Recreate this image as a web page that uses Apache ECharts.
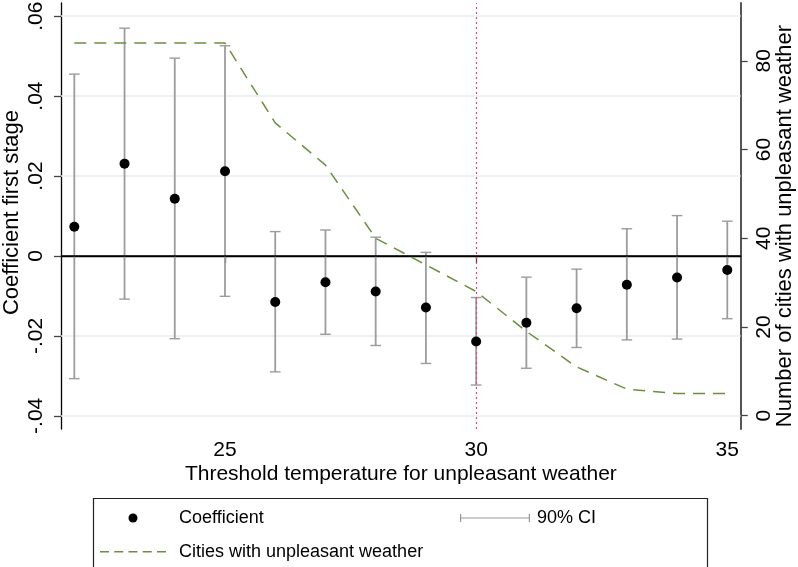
<!DOCTYPE html>
<html><head><meta charset="utf-8">
<script src="https://cdn.jsdelivr.net/npm/echarts@6/dist/echarts.min.js"></script>
<style>html,body{margin:0;padding:0;background:#fff}#c{width:798px;height:567px}</style>
</head><body><div id="c"></div>
<script>
// ---- data ----
const temps = [22, 23, 24, 25, 26, 27, 28, 29, 30, 31, 32, 33, 34, 35];
const coefficient = [0.0073, 0.0231, 0.0143, 0.0212, -0.0115, -0.0066, -0.0089, -0.0129, -0.0214, -0.0167, -0.0131, -0.0072, -0.0054, -0.0035];
const ciLower = [-0.0307, -0.0108, -0.0207, -0.0101, -0.0290, -0.0196, -0.0224, -0.0269, -0.0323, -0.0281, -0.0229, -0.0210, -0.0208, -0.0157];
const ciUpper = [0.0455, 0.0570, 0.0495, 0.0526, 0.0061, 0.0065, 0.0047, 0.0009, -0.0104, -0.0053, -0.0033, 0.0068, 0.0101, 0.0087];
const cities = [84, 84, 84, 84, 66, 56.5, 40, 34, 28, 19, 11, 6, 5, 5];
const xTicks = [25, 30, 35];
const leftTicks = [-0.04, -0.02, 0, 0.02, 0.04, 0.06];
const leftTickLabels = ['-.04', '-.02', '0', '.02', '.04', '.06'];
const leftGridValues = [-0.04, -0.02, 0.02, 0.04, 0.06];
const rightTicks = [0, 20, 40, 60, 80];
const thresholdLine = 30;

const FONT = '"Liberation Sans", Arial, Helvetica, sans-serif';
const chart = echarts.init(document.getElementById('c'), null, {renderer: 'canvas'});

const legendText = {fontFamily: FONT, fontSize: 18, color: '#000'};

const option = {
  animation: false,
  backgroundColor: '#fff',
  grid: {left: 61, right: 57.3, top: 3, bottom: 138, containLabel: false, outerBoundsMode: 'none'},
  xAxis: {
    type: 'value', min: 21.735, max: 35.267,
    axisLine: {show: true, lineStyle: {color: '#000', width: 1.3}},
    axisTick: {show: true, customValues: xTicks, length: 7, lineStyle: {color: '#444', width: 1.3}},
    axisLabel: {customValues: xTicks, margin: 10.7, fontFamily: FONT, fontSize: 21, color: '#000'},
    splitLine: {show: false}
  },
  yAxis: [{
    type: 'value', min: -0.0433, max: 0.0633, position: 'left',
    axisLine: {show: true, lineStyle: {color: '#000', width: 1.3}},
    axisTick: {show: true, customValues: leftTicks, length: 7, lineStyle: {color: '#444', width: 1.3}},
    axisLabel: {
      customValues: leftTicks, rotate: 90, margin: 14.5, fontFamily: FONT, fontSize: 21, color: '#000',
      formatter: function (v) {
        const i = leftTicks.findIndex(t => Math.abs(t - v) < 1e-9);
        return i >= 0 ? leftTickLabels[i] : '';
      }
    },
    splitLine: {show: false}
  }, {
    type: 'value', min: -3, max: 93.03, position: 'right',
    axisLine: {show: true, lineStyle: {color: '#555', width: 2}},
    axisTick: {show: true, customValues: rightTicks, length: 7, lineStyle: {color: '#444', width: 1.3}},
    axisLabel: {customValues: rightTicks, rotate: 90, margin: 12.6, fontFamily: FONT, fontSize: 21, color: '#000'},
    splitLine: {show: false}
  }],
  legend: [{
    data: [{name: 'Coefficient', icon: 'circle'}],
    left: 128.5, top: 509, itemWidth: 9, itemHeight: 9, padding: 0, selectedMode: false,
    itemStyle: {color: '#000', opacity: 1},
    textStyle: Object.assign({padding: [0, 0, 0, 36.5]}, legendText)
  }, {
    data: [{name: 'Cities with unpleasant weather',
      icon: 'path://M0,0h9v1.5h-9z M14.25,0h9v1.5h-9z M28.5,0h9v1.5h-9z M42.75,0h9v1.5h-9z M57,0h9v1.5h-9z'}],
    left: 100, top: 542.7, itemWidth: 66, itemHeight: 1.5, padding: 0, selectedMode: false,
    itemStyle: {color: '#6a8f3f'},
    textStyle: Object.assign({padding: [0, 0, 0, 8]}, legendText)
  }, {
    data: [{name: '90% CI', icon: 'path://M0,0h1.2v8h-1.2z M0,3.4h70v1.2h-70z M68.8,0h1.2v8h-1.2z'}],
    left: 460, top: 509, itemWidth: 70, itemHeight: 8, padding: 0, selectedMode: false,
    itemStyle: {color: '#999'},
    textStyle: Object.assign({padding: [0, 0, 0, 2]}, legendText)
  }],
  graphic: [
    {type: 'text', x: 12, y: 212.5, rotation: Math.PI / 2,
      style: {text: 'Coefficient first stage', fontFamily: FONT, fontSize: 22, fill: '#000', align: 'center', verticalAlign: 'middle'}},
    {type: 'text', x: 785, y: 226, rotation: Math.PI / 2,
      style: {text: 'Number of cities with unpleasant weather', fontFamily: FONT, fontSize: 22, fill: '#000', align: 'center', verticalAlign: 'middle'}},
    {type: 'text', x: 400.9, y: 474.4,
      style: {text: 'Threshold temperature for unpleasant weather', fontFamily: FONT, fontSize: 21, fill: '#000', align: 'center', verticalAlign: 'middle'}},
    {type: 'rect', shape: {x: 93.5, y: 498.5, width: 614, height: 120},
      style: {fill: 'none', stroke: '#222', lineWidth: 1.2}}
  ],
  series: [{
    type: 'line', name: 'gridlines', xAxisIndex: 0, yAxisIndex: 0, z: 1, data: [],
    markLine: {
      silent: true, symbol: 'none', z: 1, animation: false, label: {show: false},
      data: leftGridValues.map(v => ({yAxis: v, lineStyle: {color: '#e4edf1', width: 1.5, type: 'solid'}}))
    }
  }, {
    type: 'custom', name: '90% CI', xAxisIndex: 0, yAxisIndex: 0, z: 2,
    itemStyle: {color: '#999'},
    data: temps.map((t, i) => [t, ciLower[i], ciUpper[i]]),
    encode: {x: 0, y: [1, 2]},
    renderItem: function (params, api) {
      const x = api.value(0);
      const lo = api.coord([x, api.value(1)]);
      const hi = api.coord([x, api.value(2)]);
      const hw = 5.3;
      const s = {stroke: '#9c9c9c', lineWidth: 1.8, fill: null};
      const c = {stroke: '#9c9c9c', lineWidth: 1.4, fill: null};
      return {type: 'group', children: [
        {type: 'line', shape: {x1: lo[0], y1: lo[1], x2: hi[0], y2: hi[1]}, style: s},
        {type: 'line', shape: {x1: lo[0] - hw, y1: lo[1], x2: lo[0] + hw, y2: lo[1]}, style: c},
        {type: 'line', shape: {x1: hi[0] - hw, y1: hi[1], x2: hi[0] + hw, y2: hi[1]}, style: c}
      ]};
    }
  }, {
    type: 'line', name: 'Cities with unpleasant weather', xAxisIndex: 0, yAxisIndex: 1, z: 3,
    data: temps.map((t, i) => [t, cities[i]]),
    symbol: 'none', showSymbol: false,
    lineStyle: {color: '#6a8f3f', width: 1.5, type: [12, 8]},
    itemStyle: {color: '#6a8f3f'}
  }, {
    type: 'scatter', name: 'Coefficient', xAxisIndex: 0, yAxisIndex: 0, z: 4,
    data: temps.map((t, i) => [t, coefficient[i]]),
    symbol: 'circle', symbolSize: 10,
    itemStyle: {color: '#000', opacity: 1},
    markLine: {
      silent: true, symbol: 'none', z: 3, animation: false, label: {show: false},
      data: [
        {yAxis: 0, lineStyle: {color: '#000', width: 1.6, type: 'solid'}},
        {xAxis: thresholdLine, lineStyle: {color: '#e0457b', width: 1.2, type: [2, 3]}}
      ]
    }
  }]
};
chart.setOption(option);
</script></body></html>
